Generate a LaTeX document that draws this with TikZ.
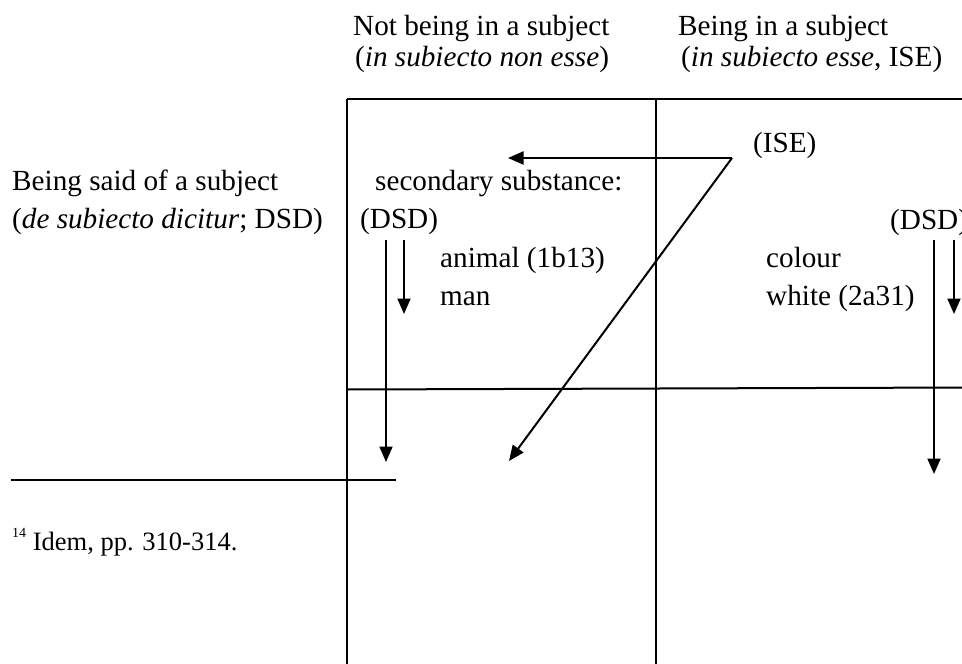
\documentclass[tikz,border=0pt]{standalone}
\usepackage{fontspec}
\setmainfont{Liberation Serif}
\usetikzlibrary{arrows.meta}
\begin{document}
\begin{tikzpicture}[x=1pt,y=-1pt,
  lbl/.style={anchor=base west,inner sep=0pt,font=\fontsize{29.2}{34}\selectfont},
  fnote/.style={anchor=base west,inner sep=0pt,font=\fontsize{26.5}{31}\selectfont},
  rule/.style={line width=2.2pt},
  conn/.style={line width=2pt,-{Triangle[width=13pt,length=15.5pt]}}]
\useasboundingbox (0,0) rectangle (962,664);
% table lines
\coordinate (tl) at (347,99);
\coordinate (tr) at (970,99);
\coordinate (bl) at (347,670);
\coordinate (tm) at (656,99);
\coordinate (bm) at (656,670);
\coordinate (ml) at (347,389.5);
\coordinate (mr) at (970,387.5);
\draw[rule] (tl) -- (tr);
\draw[rule] (tl) -- (bl);
\draw[rule] (tm) -- (bm);
\draw[line width=2pt] (ml) -- (mr);
% headers
\node[lbl] (h1) at (353,35) {Not being in a subject};
\node[lbl] (h1b) at (355,66) {(\textit{in subiecto non esse})};
\node[lbl] (h2) at (678,35) {Being in a subject};
\node[lbl] (h2b) at (681,66) {(\textit{in subiecto esse}, ISE)};
% row label
\node[lbl] (r1) at (12,190) {Being said of a subject};
\node[lbl] (r1b) at (12,228) {(\textit{de subiecto dicitur}; DSD)};
% cell texts
\node[lbl] (sec) at (375,190) {secondary substance:};
\node[lbl] (dsdl) at (360,228) {(DSD)};
\node[lbl] (animal) at (440,267) {animal (1b13)};
\node[lbl] (man) at (440,305) {man};
\node[lbl] (ise) at (753,152) {(ISE)};
\node[lbl] (dsdr) at (890,229) {(DSD)};
\node[lbl] (colour) at (766,267) {colour};
\node[lbl] (white) at (766,305) {white (2a31)};
% arrows
\coordinate (bend) at (732,158);
\coordinate (htip) at (508,158);
\coordinate (dtip) at (509,461);
\draw[conn] (bend) -- (htip);
\draw[conn] (bend) -- (dtip);
\coordinate (l1s) at (386,240);
\coordinate (l1e) at (386,462);
\coordinate (l2s) at (404,240);
\coordinate (l2e) at (404,314);
\draw[conn] (l1s) -- (l1e);
\draw[conn] (l2s) -- (l2e);
\coordinate (r1s) at (934,240);
\coordinate (r1e) at (934,474);
\coordinate (r2s) at (954,240);
\coordinate (r2e) at (954,314);
\draw[conn] (r1s) -- (r1e);
\draw[conn] (r2s) -- (r2e);
% footnote
\coordinate (fa) at (11,480);
\coordinate (fb) at (396,480);
\draw[rule] (fa) -- (fb);
\node[fnote] (fn) at (12,550) {\raisebox{13pt}{\fontsize{14}{14}\selectfont 14} Idem, pp. 310-314.};
\end{tikzpicture}
\end{document}
